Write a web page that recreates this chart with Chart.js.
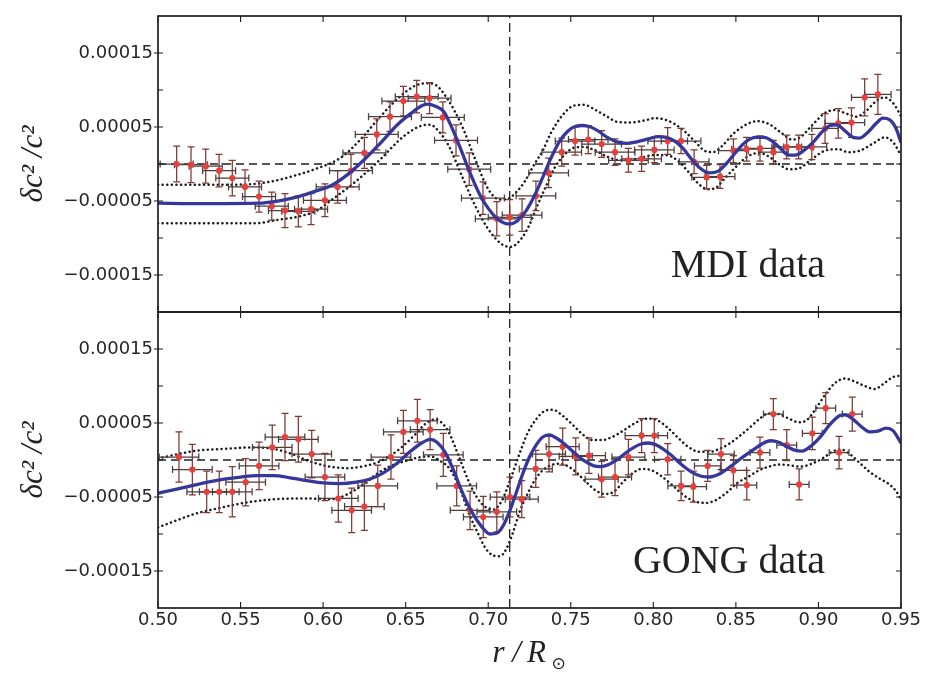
<!DOCTYPE html>
<html>
<head>
<meta charset="utf-8">
<script src="https://cdn.jsdelivr.net/npm/chart.js@4.4.1/dist/chart.umd.min.js"></script>
<style>
  html, body { margin: 0; padding: 0; background: #fff; }
  #wrap { position: relative; width: 929px; height: 673px; }
</style>
</head>
<body>
<div id="wrap"><canvas id="c" width="929" height="673"></canvas></div>
<script>
// Relative squared sound-speed difference between the Sun and the reference model,
// inverted from two data sets (upper: MDI, lower: GONG).

const xTicks = [0.50, 0.55, 0.60, 0.65, 0.70, 0.75, 0.80, 0.85, 0.90, 0.95];
const tachocline = [0.713];
const panelNames = ['MDI data', 'GONG data'];

// MDI: localized inversion points (radius, value, radial spread, error)
const mdiR = [0.5113,0.5200,0.5289,0.5370,0.5450,0.5527,0.5612,0.5689,0.5769,0.5850,0.5927,0.6011,0.6088,0.6169,0.6250,0.6325,0.6405,0.6486,0.6567,0.6645,0.6725,0.6805,0.6885,0.6968,0.7052,0.7130,0.7205,0.7289,0.7366,0.7445,0.7526,0.7606,0.7687,0.7768,0.7849,0.7929,0.8006,0.8087,0.8168,0.8247,0.8323,0.8404,0.8485,0.8565,0.8646,0.8727,0.8808,0.8880,0.8960,0.9040,0.9120,0.9200,0.9280,0.9360];
const mdiDc = [0.0e-5,-0.1e-5,-0.3e-5,-0.9e-5,-1.9e-5,-3.1e-5,-4.4e-5,-5.7e-5,-6.3e-5,-6.4e-5,-6.1e-5,-4.9e-5,-3.1e-5,-0.9e-5,1.5e-5,4.0e-5,6.4e-5,8.5e-5,9.1e-5,8.9e-5,6.3e-5,3.2e-5,-0.7e-5,-4.6e-5,-7.4e-5,-7.2e-5,-6.9e-5,-4.3e-5,-1.2e-5,1.6e-5,3.1e-5,3.3e-5,2.7e-5,1.6e-5,0.5e-5,0.7e-5,1.9e-5,3.1e-5,3.1e-5,0.3e-5,-1.8e-5,-1.7e-5,1.8e-5,2.0e-5,2.1e-5,1.6e-5,2.3e-5,2.3e-5,2.3e-5,4.8e-5,5.5e-5,5.6e-5,9.0e-5,9.4e-5];
const mdiErrR = [0.010,0.010,0.010,0.010,0.010,0.010,0.010,0.010,0.010,0.010,0.010,0.013,0.013,0.013,0.013,0.013,0.013,0.013,0.013,0.013,0.013,0.013,0.013,0.013,0.013,0.013,0.012,0.012,0.012,0.012,0.012,0.012,0.012,0.012,0.012,0.012,0.012,0.012,0.012,0.009,0.009,0.009,0.009,0.009,0.009,0.009,0.009,0.009,0.009,0.008,0.008,0.008,0.008,0.008];
const mdiErrDc = [2.4e-5,2.4e-5,2.3e-5,2.2e-5,2.4e-5,2.3e-5,2.1e-5,1.9e-5,2.3e-5,2.1e-5,2.1e-5,2.2e-5,2.2e-5,2.2e-5,2.1e-5,2.1e-5,2.0e-5,2.0e-5,2.2e-5,2.1e-5,2.1e-5,2.1e-5,2.2e-5,2.2e-5,2.3e-5,2.4e-5,2.2e-5,2.0e-5,2.0e-5,1.9e-5,1.9e-5,1.9e-5,1.8e-5,1.8e-5,1.6e-5,1.7e-5,1.7e-5,1.8e-5,1.7e-5,1.6e-5,1.6e-5,1.6e-5,1.6e-5,1.6e-5,1.7e-5,1.6e-5,1.6e-5,1.6e-5,1.7e-5,2.0e-5,2.0e-5,2.0e-5,2.5e-5,2.7e-5];

// MDI: regularized least-squares solution and its error envelope
const mdiFit = [[0.500,-5.3e-5],[0.520,-5.35e-5],[0.540,-5.35e-5],[0.560,-5.3e-5],[0.575,-4.9e-5],[0.585,-4.4e-5],[0.595,-3.7e-5],[0.605,-2.9e-5],[0.615,-1.4e-5],[0.625,0.6e-5],[0.635,2.9e-5],[0.645,5.3e-5],[0.653,6.8e-5],[0.660,7.9e-5],[0.6635,8.1e-5],[0.668,7.8e-5],[0.673,7.1e-5],[0.678,4.9e-5],[0.683,2.2e-5],[0.689,-1.2e-5],[0.695,-4.2e-5],[0.700,-6.0e-5],[0.705,-7.3e-5],[0.710,-8.0e-5],[0.7135,-8.1e-5],[0.718,-7.6e-5],[0.723,-6.3e-5],[0.728,-4.3e-5],[0.733,-1.8e-5],[0.738,0.8e-5],[0.743,3.0e-5],[0.748,4.4e-5],[0.753,5.1e-5],[0.757,5.2e-5],[0.762,5.0e-5],[0.767,4.4e-5],[0.772,3.6e-5],[0.778,3.0e-5],[0.784,2.8e-5],[0.790,3.0e-5],[0.797,3.4e-5],[0.803,3.7e-5],[0.808,3.6e-5],[0.813,3.1e-5],[0.818,2.1e-5],[0.823,0.7e-5],[0.828,-0.5e-5],[0.834,-1.2e-5],[0.839,-1.0e-5],[0.844,0.0e-5],[0.850,1.6e-5],[0.856,3.0e-5],[0.862,3.6e-5],[0.867,3.6e-5],[0.872,3.1e-5],[0.877,2.1e-5],[0.882,1.2e-5],[0.886,1.2e-5],[0.891,1.8e-5],[0.897,3.0e-5],[0.902,4.3e-5],[0.907,5.2e-5],[0.911,5.3e-5],[0.916,4.5e-5],[0.921,3.6e-5],[0.925,3.5e-5],[0.930,4.3e-5],[0.935,5.5e-5],[0.939,6.2e-5],[0.943,6.0e-5],[0.947,4.8e-5],[0.950,2.9e-5]];
const mdiUpper = [[0.500,-2.8e-5],[0.540,-2.8e-5],[0.558,-2.7e-5],[0.570,-2.3e-5],[0.579,-1.8e-5],[0.595,-0.7e-5],[0.611,0.9e-5],[0.623,3.4e-5],[0.635,6.5e-5],[0.647,9.2e-5],[0.656,10.6e-5],[0.663,10.9e-5],[0.668,10.7e-5],[0.675,8.9e-5],[0.684,5.2e-5],[0.692,0.7e-5],[0.700,-3.4e-5],[0.707,-4.8e-5],[0.712,-4.7e-5],[0.717,-3.8e-5],[0.722,-2.4e-5],[0.728,0.0e-5],[0.733,1.8e-5],[0.738,4.2e-5],[0.745,6.6e-5],[0.752,7.9e-5],[0.758,8.0e-5],[0.765,7.3e-5],[0.772,6.4e-5],[0.778,5.7e-5],[0.786,5.6e-5],[0.795,5.9e-5],[0.801,6.2e-5],[0.807,6.0e-5],[0.813,5.4e-5],[0.819,4.4e-5],[0.825,3.1e-5],[0.831,1.8e-5],[0.836,1.6e-5],[0.842,2.5e-5],[0.848,4.0e-5],[0.856,5.3e-5],[0.863,5.8e-5],[0.870,5.4e-5],[0.877,4.3e-5],[0.884,3.3e-5],[0.889,3.6e-5],[0.896,5.2e-5],[0.904,6.9e-5],[0.910,7.3e-5],[0.917,6.8e-5],[0.923,6.4e-5],[0.929,7.2e-5],[0.935,8.5e-5],[0.940,9.0e-5],[0.945,8.3e-5],[0.950,6.5e-5]];
const mdiLower = [[0.500,-8.0e-5],[0.560,-8.0e-5],[0.571,-7.6e-5],[0.587,-7.0e-5],[0.597,-6.2e-5],[0.603,-5.2e-5],[0.619,-2.5e-5],[0.635,0.7e-5],[0.648,3.6e-5],[0.660,5.2e-5],[0.665,5.3e-5],[0.668,4.9e-5],[0.676,2.5e-5],[0.684,-1.6e-5],[0.692,-5.6e-5],[0.700,-8.8e-5],[0.708,-10.8e-5],[0.7135,-11.2e-5],[0.720,-10.1e-5],[0.725,-8.2e-5],[0.730,-5.5e-5],[0.735,-3.0e-5],[0.740,-0.6e-5],[0.746,1.2e-5],[0.752,2.2e-5],[0.758,2.3e-5],[0.765,1.8e-5],[0.772,1.0e-5],[0.780,0.5e-5],[0.790,0.7e-5],[0.800,1.2e-5],[0.808,1.2e-5],[0.815,0.4e-5],[0.821,-1.0e-5],[0.827,-2.6e-5],[0.833,-3.4e-5],[0.838,-3.2e-5],[0.843,-2.0e-5],[0.850,-0.4e-5],[0.857,1.0e-5],[0.864,1.5e-5],[0.870,1.0e-5],[0.876,0.0e-5],[0.882,-0.7e-5],[0.888,-0.6e-5],[0.895,0.5e-5],[0.904,1.8e-5],[0.912,2.0e-5],[0.918,1.6e-5],[0.925,1.8e-5],[0.934,2.9e-5],[0.940,3.6e-5],[0.945,3.0e-5],[0.950,1.2e-5]];

// GONG: localized inversion points
const gongR = [0.5127,0.5208,0.5295,0.5371,0.5450,0.5531,0.5612,0.5692,0.5769,0.5850,0.5931,0.6011,0.6092,0.6173,0.6250,0.6331,0.6411,0.6486,0.6571,0.6648,0.6728,0.6809,0.6890,0.6970,0.7052,0.7132,0.7203,0.7288,0.7368,0.7451,0.7530,0.7610,0.7687,0.7768,0.7849,0.7929,0.8006,0.8087,0.8168,0.8242,0.8329,0.8410,0.8485,0.8566,0.8646,0.8727,0.8808,0.8883,0.8963,0.9044,0.9125,0.9205];
const gongDc = [0.4e-5,-1.3e-5,-4.3e-5,-4.3e-5,-4.3e-5,-3.0e-5,-0.8e-5,1.7e-5,3.1e-5,2.8e-5,0.8e-5,-2.3e-5,-5.2e-5,-6.8e-5,-6.3e-5,-3.5e-5,0.4e-5,3.8e-5,5.3e-5,4.1e-5,0.7e-5,-3.5e-5,-6.8e-5,-7.7e-5,-7.0e-5,-5.0e-5,-5.3e-5,-1.2e-5,0.8e-5,1.8e-5,0.5e-5,0.6e-5,-2.6e-5,-2.3e-5,0.4e-5,3.3e-5,3.3e-5,0.1e-5,-3.5e-5,-3.6e-5,-0.8e-5,0.8e-5,-1.4e-5,-3.4e-5,1.0e-5,6.2e-5,2.0e-5,-3.3e-5,3.6e-5,7.0e-5,1.0e-5,6.2e-5];
const gongErrR = [0.012,0.012,0.012,0.012,0.012,0.012,0.012,0.012,0.012,0.012,0.012,0.012,0.012,0.012,0.012,0.012,0.012,0.012,0.012,0.012,0.012,0.012,0.012,0.012,0.012,0.012,0.010,0.010,0.010,0.010,0.010,0.010,0.010,0.010,0.010,0.010,0.008,0.008,0.008,0.008,0.008,0.008,0.008,0.006,0.006,0.006,0.006,0.006,0.006,0.006,0.006,0.006];
const gongErrDc = [3.4e-5,3.4e-5,2.8e-5,2.8e-5,3.4e-5,3.2e-5,3.2e-5,3.0e-5,3.2e-5,3.1e-5,3.2e-5,3.2e-5,3.2e-5,3.0e-5,3.2e-5,2.8e-5,3.0e-5,2.9e-5,2.9e-5,2.7e-5,2.9e-5,2.7e-5,2.6e-5,2.8e-5,2.7e-5,2.7e-5,2.5e-5,2.5e-5,2.4e-5,2.5e-5,2.5e-5,2.4e-5,2.4e-5,2.5e-5,2.4e-5,2.3e-5,2.3e-5,2.1e-5,2.0e-5,2.1e-5,2.1e-5,2.1e-5,2.0e-5,2.0e-5,2.1e-5,2.1e-5,2.1e-5,2.1e-5,2.2e-5,2.1e-5,2.2e-5,2.3e-5];

// GONG: regularized least-squares solution and its error envelope
const gongFit = [[0.500,-4.5e-5],[0.510,-4.0e-5],[0.520,-3.5e-5],[0.530,-3.0e-5],[0.540,-2.6e-5],[0.550,-2.3e-5],[0.560,-2.1e-5],[0.570,-2.1e-5],[0.580,-2.4e-5],[0.590,-2.8e-5],[0.600,-3.1e-5],[0.610,-3.2e-5],[0.620,-3.0e-5],[0.628,-2.6e-5],[0.636,-1.8e-5],[0.645,-0.4e-5],[0.652,1.0e-5],[0.659,2.2e-5],[0.665,2.8e-5],[0.669,2.4e-5],[0.674,1.0e-5],[0.679,-1.4e-5],[0.684,-4.2e-5],[0.690,-7.0e-5],[0.696,-9.0e-5],[0.701,-10.0e-5],[0.705,-9.9e-5],[0.709,-8.9e-5],[0.713,-6.9e-5],[0.717,-4.4e-5],[0.721,-1.8e-5],[0.725,0.4e-5],[0.729,2.0e-5],[0.733,3.1e-5],[0.737,3.4e-5],[0.741,3.0e-5],[0.746,2.2e-5],[0.752,1.0e-5],[0.758,-0.1e-5],[0.764,-0.8e-5],[0.768,-0.9e-5],[0.773,-0.6e-5],[0.779,0.2e-5],[0.786,1.4e-5],[0.793,2.2e-5],[0.797,2.3e-5],[0.803,1.9e-5],[0.810,0.8e-5],[0.817,-0.6e-5],[0.823,-1.6e-5],[0.829,-2.2e-5],[0.834,-2.3e-5],[0.840,-1.9e-5],[0.846,-1.0e-5],[0.853,0.2e-5],[0.860,1.3e-5],[0.866,2.2e-5],[0.871,2.6e-5],[0.876,2.4e-5],[0.881,1.8e-5],[0.886,1.3e-5],[0.890,1.2e-5],[0.895,1.8e-5],[0.901,3.1e-5],[0.907,4.8e-5],[0.913,6.0e-5],[0.916,6.1e-5],[0.921,5.5e-5],[0.926,4.5e-5],[0.931,3.8e-5],[0.936,3.9e-5],[0.941,4.3e-5],[0.945,4.0e-5],[0.950,2.3e-5]];
const gongUpper = [[0.500,0.2e-5],[0.512,0.8e-5],[0.525,1.3e-5],[0.540,1.5e-5],[0.557,1.7e-5],[0.570,1.5e-5],[0.580,0.9e-5],[0.591,-0.1e-5],[0.600,-0.7e-5],[0.607,-1.0e-5],[0.615,-1.1e-5],[0.623,-0.9e-5],[0.632,-0.4e-5],[0.640,0.5e-5],[0.648,1.8e-5],[0.656,3.5e-5],[0.662,4.9e-5],[0.668,5.5e-5],[0.672,5.0e-5],[0.676,3.8e-5],[0.682,0.6e-5],[0.688,-2.8e-5],[0.693,-5.0e-5],[0.698,-6.3e-5],[0.703,-6.7e-5],[0.708,-5.6e-5],[0.712,-3.5e-5],[0.716,-1.0e-5],[0.720,1.5e-5],[0.724,3.7e-5],[0.729,5.5e-5],[0.734,6.6e-5],[0.739,6.8e-5],[0.745,6.0e-5],[0.751,4.8e-5],[0.757,3.5e-5],[0.763,2.7e-5],[0.769,2.7e-5],[0.775,3.1e-5],[0.782,4.0e-5],[0.789,5.0e-5],[0.797,5.6e-5],[0.803,5.3e-5],[0.809,4.3e-5],[0.815,3.0e-5],[0.821,1.8e-5],[0.828,1.1e-5],[0.834,1.1e-5],[0.840,1.5e-5],[0.846,2.2e-5],[0.852,3.2e-5],[0.858,4.3e-5],[0.864,5.5e-5],[0.870,6.3e-5],[0.876,6.2e-5],[0.882,5.6e-5],[0.888,5.1e-5],[0.893,5.4e-5],[0.898,6.8e-5],[0.904,8.8e-5],[0.910,10.4e-5],[0.916,11.0e-5],[0.922,10.6e-5],[0.928,10.0e-5],[0.934,9.6e-5],[0.940,10.4e-5],[0.945,11.2e-5],[0.950,11.4e-5]];
const gongLower = [[0.500,-9.1e-5],[0.512,-8.1e-5],[0.522,-7.3e-5],[0.539,-6.4e-5],[0.555,-5.7e-5],[0.571,-5.3e-5],[0.591,-5.2e-5],[0.605,-5.3e-5],[0.615,-4.6e-5],[0.625,-3.2e-5],[0.633,-1.8e-5],[0.641,-0.8e-5],[0.649,-0.2e-5],[0.657,0.3e-5],[0.665,0.5e-5],[0.670,0.0e-5],[0.677,-1.3e-5],[0.683,-4.0e-5],[0.689,-7.6e-5],[0.694,-10.0e-5],[0.698,-11.8e-5],[0.703,-12.9e-5],[0.707,-13.0e-5],[0.711,-12.0e-5],[0.715,-9.8e-5],[0.719,-7.0e-5],[0.724,-4.5e-5],[0.728,-2.8e-5],[0.732,-1.6e-5],[0.737,-0.8e-5],[0.742,-0.5e-5],[0.747,-0.7e-5],[0.753,-1.6e-5],[0.759,-2.9e-5],[0.765,-4.1e-5],[0.771,-4.6e-5],[0.776,-4.3e-5],[0.782,-2.9e-5],[0.788,-1.7e-5],[0.793,-1.2e-5],[0.799,-1.4e-5],[0.805,-2.2e-5],[0.812,-3.5e-5],[0.818,-4.7e-5],[0.825,-5.6e-5],[0.832,-5.8e-5],[0.838,-5.4e-5],[0.845,-4.3e-5],[0.851,-3.1e-5],[0.858,-2.2e-5],[0.864,-1.4e-5],[0.870,-0.9e-5],[0.876,-0.6e-5],[0.882,-0.7e-5],[0.889,-0.9e-5],[0.896,-0.5e-5],[0.903,0.3e-5],[0.909,1.2e-5],[0.914,1.4e-5],[0.919,0.8e-5],[0.925,-0.4e-5],[0.931,-1.6e-5],[0.937,-2.5e-5],[0.943,-3.3e-5],[0.947,-4.2e-5],[0.950,-5.3e-5]];

const Y_MIN = -2e-4, Y_MAX = 2e-4;
const INK = '#1f1f1f';
const FIT_BLUE = '#35389a';
const POINT_RED = '#e5403b';

const toXY = pairs => pairs.map(([x, y]) => ({x, y}));
const pointsOf = (rs, vs) => rs.map((r, i) => ({x: r, y: vs[i]}));

function zeroLine(axis) {
  return { type: 'line', yAxisID: axis, data: [{x: xTicks[0], y: 0}, {x: xTicks[xTicks.length - 1], y: 0}],
    borderColor: INK, borderWidth: 1.3, borderDash: [8, 5], pointRadius: 0, order: 4 };
}
function markerLine(axis) {
  return { type: 'line', yAxisID: axis, data: [{x: tachocline[0], y: Y_MIN}, {x: tachocline[0], y: Y_MAX}],
    borderColor: INK, borderWidth: 1.3, borderDash: [9, 5], pointRadius: 0, order: 4 };
}
function envelope(axis, pairs) {
  return { type: 'line', yAxisID: axis, data: toXY(pairs), borderColor: '#1c1c1c', borderWidth: 2.5,
    borderDash: [0.1, 4.5], borderCapStyle: 'round', pointRadius: 0, cubicInterpolationMode: 'monotone', order: 3 };
}
function fitLine(axis, pairs) {
  return { type: 'line', yAxisID: axis, data: toXY(pairs), borderColor: FIT_BLUE, borderWidth: 3.3,
    pointRadius: 0, cubicInterpolationMode: 'monotone', order: 0 };
}
function inversionPoints(axis, rs, vs, er, ev) {
  return { type: 'scatter', yAxisID: axis, data: pointsOf(rs, vs), pointRadius: 3.1,
    pointBackgroundColor: POINT_RED, pointBorderWidth: 0, showLine: false, order: 1,
    errorBars: {dx: er, dy: ev} };
}

// horizontal and vertical error bars with caps, painted just beneath their points
const errorBarPlugin = {
  id: 'errorBars',
  beforeDatasetDraw(chart, args) {
    const ds = chart.data.datasets[args.index];
    if (!ds.errorBars) return;
    const xs = chart.scales.x, ys = chart.scales[ds.yAxisID], ctx = chart.ctx;
    const cap = 3.5;
    ctx.save();
    ctx.beginPath();
    ctx.rect(chart.chartArea.left, ys.top, chart.chartArea.right - chart.chartArea.left, ys.bottom - ys.top);
    ctx.clip();
    ctx.lineWidth = 1.25;
    ds.data.forEach((p, i) => {
      const dx = ds.errorBars.dx[i], dy = ds.errorBars.dy[i];
      const xc = xs.getPixelForValue(p.x), yc = ys.getPixelForValue(p.y);
      const x0 = xs.getPixelForValue(p.x - dx), x1 = xs.getPixelForValue(p.x + dx);
      const y0 = ys.getPixelForValue(p.y - dy), y1 = ys.getPixelForValue(p.y + dy);
      ctx.strokeStyle = '#4a3d3d';
      ctx.beginPath();
      ctx.moveTo(x0, yc); ctx.lineTo(x1, yc);
      ctx.moveTo(x0, yc - cap); ctx.lineTo(x0, yc + cap);
      ctx.moveTo(x1, yc - cap); ctx.lineTo(x1, yc + cap);
      ctx.stroke();
      ctx.strokeStyle = '#7e3934';
      ctx.beginPath();
      ctx.moveTo(xc, y0); ctx.lineTo(xc, y1);
      ctx.moveTo(xc - cap, y0); ctx.lineTo(xc + cap, y0);
      ctx.moveTo(xc - cap, y1); ctx.lineTo(xc + cap, y1);
      ctx.stroke();
    });
    ctx.restore();
  }
};

// panel frames with inward tick marks on all four sides
const framePlugin = {
  id: 'panelFrames',
  afterDatasetsDraw(chart) {
    const ctx = chart.ctx, xs = chart.scales.x;
    const {left, right} = chart.chartArea;
    ctx.save();
    ctx.strokeStyle = INK;
    ['yTop', 'yBot'].forEach(id => {
      const ys = chart.scales[id];
      ctx.lineWidth = 1.1;
      ctx.beginPath();
      xs.ticks.forEach(t => {
        const px = xs.getPixelForValue(t.value);
        ctx.moveTo(px, ys.top); ctx.lineTo(px, ys.top + 6);
        ctx.moveTo(px, ys.bottom); ctx.lineTo(px, ys.bottom - 6);
      });
      ys.ticks.forEach(t => {
        if (Math.abs(Math.abs(t.value) - Y_MAX) < 1e-9) return;
        const py = ys.getPixelForValue(t.value);
        const out = t.label ? 4 : 0;
        ctx.moveTo(left - out, py); ctx.lineTo(left + 5, py);
        ctx.moveTo(right - 5, py); ctx.lineTo(right, py);
      });
      ctx.stroke();
      ctx.lineWidth = 1.7;
      ctx.strokeRect(left, ys.top, right - left, ys.bottom - ys.top);
    });
    ctx.restore();
  }
};

// panel captions and the radius axis title
const captionPlugin = {
  id: 'captions',
  afterDraw(chart) {
    const ctx = chart.ctx, xs = chart.scales.x;
    ctx.save();
    ctx.fillStyle = '#222';
    ctx.font = '40px "Liberation Serif"';
    ctx.textAlign = 'right';
    ctx.textBaseline = 'alphabetic';
    ['yTop', 'yBot'].forEach((id, k) => {
      const ys = chart.scales[id];
      ctx.fillText(panelNames[k], xs.getPixelForValue(0.904), ys.getPixelForValue(-1.53e-4));
    });
    const cx = (chart.chartArea.left + chart.chartArea.right) / 2;
    const base = chart.chartArea.bottom + 54;
    ctx.textAlign = 'center';
    ctx.font = 'italic 31px "Liberation Serif"';
    ctx.fillText('r', cx - 31, base);
    ctx.fillText('/', cx - 13, base);
    ctx.fillText('R', cx + 7, base);
    ctx.font = '17px "DejaVu Sans"';
    ctx.textBaseline = 'middle';
    ctx.fillText('\u2299', cx + 29, base + 3);
    ctx.restore();
  }
};

const fmtY = v => {
  const k = Math.round(v / 5e-5);
  if (Math.abs(k) % 2 !== 1) return '';
  return (v < 0 ? '\u2212' : '') + Math.abs(v).toFixed(5);
};

function panelAxis(weight) {
  return {
    type: 'linear', position: 'left', stack: 'panels', stackWeight: 1, weight,
    min: Y_MIN, max: Y_MAX,
    grid: { display: false, drawTicks: false },
    border: { display: false },
    ticks: { stepSize: 5e-5, autoSkip: false, padding: 5, color: '#262626',
      font: { family: 'DejaVu Sans', size: 18 }, callback: fmtY },
    title: { display: true, text: '\u03b4c\u00b2 /c\u00b2', color: '#222',
      font: { family: 'Liberation Serif', style: 'italic', size: 31 }, padding: { top: 15, bottom: 0 } },
    afterFit: s => { s.width = 158; }
  };
}

new Chart(document.getElementById('c'), {
  type: 'scatter',
  data: {
    datasets: [
      fitLine('yTop', mdiFit),
      fitLine('yBot', gongFit),
      inversionPoints('yTop', mdiR, mdiDc, mdiErrR, mdiErrDc),
      inversionPoints('yBot', gongR, gongDc, gongErrR, gongErrDc),
      envelope('yTop', mdiUpper), envelope('yTop', mdiLower),
      envelope('yBot', gongUpper), envelope('yBot', gongLower),
      zeroLine('yTop'), zeroLine('yBot'),
      markerLine('yTop'), markerLine('yBot')
    ]
  },
  options: {
    responsive: false,
    animation: false,
    devicePixelRatio: 1,
    layout: { padding: { top: 16, right: 28, bottom: 0, left: 0 } },
    plugins: { legend: { display: false }, tooltip: { enabled: false } },
    scales: {
      x: {
        type: 'linear', position: 'bottom', min: xTicks[0], max: xTicks[xTicks.length - 1],
        grid: { display: false, drawTicks: false },
        border: { display: false },
        afterBuildTicks: s => { s.ticks = xTicks.map(v => ({value: v})); },
        ticks: { padding: 2, color: '#262626', font: { family: 'DejaVu Sans', size: 18 },
          callback: v => Number(v).toFixed(2), autoSkip: false, maxRotation: 0 },
        afterFit: s => { s.height = 65; }
      },
      yBot: panelAxis(0),
      yTop: panelAxis(1)
    }
  },
  plugins: [errorBarPlugin, framePlugin, captionPlugin]
});
</script>
</body>
</html>
